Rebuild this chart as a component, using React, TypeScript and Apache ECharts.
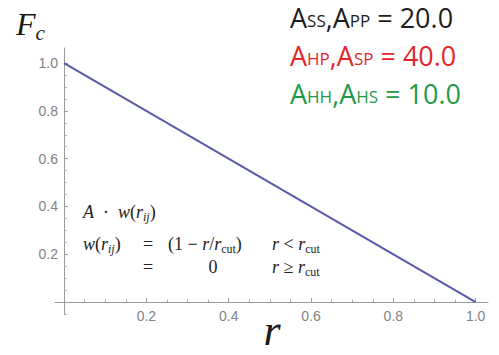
import React, { useEffect, useRef } from "react";
import * as echarts from "echarts";

// ---- data ----
const rValues = [0, 1];
const fcValues = [1, 0];
const xMajorTicks = [0.2, 0.4, 0.6, 0.8, 1.0];
const xMinorTicks = [0.05, 0.1, 0.15, 0.25, 0.3, 0.35, 0.45, 0.5, 0.55, 0.65, 0.7, 0.75, 0.85, 0.9, 0.95];
const yMajorTicks = [0.2, 0.4, 0.6, 0.8, 1.0];
const yMinorTicks = [-0.05, 0.05, 0.1, 0.15, 0.25, 0.3, 0.35, 0.45, 0.5, 0.55, 0.65, 0.7, 0.75, 0.85, 0.9, 0.95];
const legendPairs = [["SS", "PP"], ["HP", "SP"], ["HH", "HS"]];
const legendValues = ["20.0", "40.0", "10.0"];
const legendColors = ["#1d1d1d", "#e3262c", "#1f9a4a"];

const SERIF = "'Liberation Serif', 'Times New Roman', serif";
const SANS = "'Liberation Sans', Arial, sans-serif";
const LEG = "'Open Sans', 'Noto Sans', sans-serif";

const W = 499;
const H = 355;
const GRID = { left: 55, right: 11, top: 48, bottom: 41 };
const X_MIN = -0.022;
const X_MAX = 1.03;
const Y_MIN = -0.05;
const Y_MAX = 1.063;
const gridW = W - GRID.left - GRID.right;
const gridH = H - GRID.top - GRID.bottom;
// axes cross at the origin: shift them inward from the grid edge to value 0
const xAxisOffset = -((0 - Y_MIN) / (Y_MAX - Y_MIN)) * gridH;
const yAxisOffset = -((0 - X_MIN) / (X_MAX - X_MIN)) * gridW;

const mathRich = {
  i: { fontStyle: "italic", fontFamily: SERIF, fontSize: 18, fill: "#222" },
  s: { fontStyle: "italic", fontFamily: SERIF, fontSize: 12, fill: "#222", padding: [9, 0, 0, 0] },
  sr: { fontStyle: "normal", fontFamily: SERIF, fontSize: 12, fill: "#222", padding: [9, 0, 0, 0] },
};

function mathText(text: string, x: number, y: number, align: string = "left") {
  return {
    type: "text",
    style: {
      text,
      x,
      y,
      fill: "#222",
      fontFamily: SERIF,
      fontSize: 18,
      align,
      verticalAlign: "middle",
      rich: mathRich,
    },
  };
}

const axisGray = "#9a9a9a";
const labelStyle = {
  color: "#828282",
  fontFamily: SANS,
  fontSize: 14,
};

export default function App() {
  const ref = useRef<HTMLDivElement>(null);
  useEffect(() => {
    if (!ref.current) return;
    const chart = echarts.init(ref.current, undefined, { renderer: "svg" });

    const legendGraphics = legendPairs.map((p, k) => ({
      type: "text",
      style: {
        text: `A{s|${p[0]}},A{s|${p[1]}} = ${legendValues[k]}`,
        x: 290,
        y: 17 + k * 38,
        fill: legendColors[k],
        fontFamily: LEG,
        fontSize: 27,
        align: "left",
        verticalAlign: "middle",
        rich: {
          s: { fontFamily: LEG, fontSize: 17, fill: legendColors[k], padding: [7, 0, 0, 0] },
        },
      },
    }));

    const option: any = {
      animation: false,
      backgroundColor: "#ffffff",
      grid: { ...GRID, containLabel: false },
      xAxis: [
        {
          type: "value",
          position: "bottom",
          offset: xAxisOffset,
          min: X_MIN,
          max: X_MAX,
          axisLine: { show: true, onZero: false, lineStyle: { color: axisGray, width: 1 } },
          axisTick: { show: true, inside: true, length: 4, customValues: xMajorTicks, lineStyle: { color: axisGray } },
          axisLabel: {
            show: true,
            customValues: xMajorTicks,
            formatter: (v: number) => v.toFixed(1),
            margin: 7,
            ...labelStyle,
          },
          splitLine: { show: false },
        },
        {
          type: "value",
          position: "bottom",
          offset: xAxisOffset,
          min: X_MIN,
          max: X_MAX,
          axisLine: { show: false, onZero: false },
          axisTick: { show: true, inside: true, length: 2.5, customValues: xMinorTicks, lineStyle: { color: "#a8a8a8" } },
          axisLabel: { show: false },
          splitLine: { show: false },
        },
      ],
      yAxis: [
        {
          type: "value",
          position: "left",
          offset: yAxisOffset,
          min: Y_MIN,
          max: Y_MAX,
          axisLine: { show: true, onZero: false, lineStyle: { color: axisGray, width: 1 } },
          axisTick: { show: true, inside: true, length: 4, customValues: yMajorTicks, lineStyle: { color: axisGray } },
          axisLabel: {
            show: true,
            customValues: yMajorTicks,
            formatter: (v: number) => v.toFixed(1),
            margin: 6,
            ...labelStyle,
          },
          splitLine: { show: false },
        },
        {
          type: "value",
          position: "left",
          offset: yAxisOffset,
          min: Y_MIN,
          max: Y_MAX,
          axisLine: { show: false, onZero: false },
          axisTick: { show: true, inside: true, length: 2.5, customValues: yMinorTicks, lineStyle: { color: "#a8a8a8" } },
          axisLabel: { show: false },
          splitLine: { show: false },
        },
      ],
      series: [
        {
          type: "line",
          xAxisIndex: 0,
          yAxisIndex: 0,
          data: rValues.map((r, i) => [r, fcValues[i]]),
          showSymbol: false,
          symbol: "none",
          lineStyle: { color: "#5a5aa9", width: 2 },
          silent: true,
        },
      ],
      graphic: [
        {
          type: "text",
          style: {
            text: "F{c|c}",
            x: 16,
            y: 24,
            fill: "#1a1a1a",
            fontFamily: SERIF,
            fontStyle: "italic",
            fontSize: 32,
            align: "left",
            verticalAlign: "middle",
            rich: {
              c: { fontFamily: SERIF, fontStyle: "italic", fontSize: 21, fill: "#1a1a1a", padding: [18, 0, 0, 0] },
            },
          },
        },
        {
          type: "text",
          style: {
            text: "r",
            x: 272,
            y: 330,
            fill: "#1a1a1a",
            fontFamily: SERIF,
            fontStyle: "italic",
            fontSize: 44,
            align: "center",
            verticalAlign: "middle",
          },
        },
        ...legendGraphics,
        mathText("{i|A}  ·  {i|w}({i|r}{s|ij})", 83, 212),
        mathText("{i|w}({i|r}{s|ij})", 83, 244),
        mathText("=", 148, 244, "center"),
        mathText("(1 − {i|r}/{i|r}{sr|cut})", 168, 244),
        mathText("{i|r} < {i|r}{sr|cut}", 272, 244),
        mathText("=", 148, 267, "center"),
        mathText("0", 213, 267, "center"),
        mathText("{i|r} ≥ {i|r}{sr|cut}", 272, 267),
      ],
    };
    chart.setOption(option);
    return () => chart.dispose();
  }, []);
  return (
    <div
      ref={ref}
      style={{ position: "fixed", left: 0, top: 0, width: W, height: H, background: "#fff" }}
    />
  );
}
